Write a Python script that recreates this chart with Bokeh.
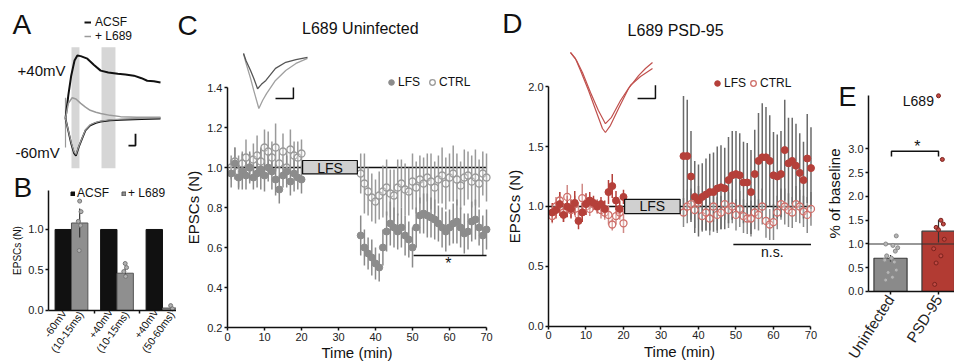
import numpy as np
from bokeh.plotting import figure
from bokeh.layouts import row, column
from bokeh.models import Range1d, FixedTicker, Label, Legend, LegendItem, NumeralTickFormatter
from bokeh.embed import file_html
from bokeh.resources import INLINE

FONT = "Liberation Sans"

# ---------------- Panel A : example traces (time in ms, normalised current) ----------------
A_T_ACSF40 = [0, 3, 6, 9.5, 12.5, 16, 23, 30, 37, 45, 55, 63, 72, 80, 86, 93, 100]
A_V_ACSF40 = [0, 0.37, 0.68, 0.92, 1.0, 0.99, 0.95, 0.85, 0.76, 0.73, 0.71, 0.70, 0.68, 0.64, 0.60, 0.59, 0.57]
A_T_L68940 = [0, 3, 7, 11, 16, 21, 26, 32, 37, 47, 58, 75, 100]
A_V_L68940 = [0, 0.24, 0.33, 0.31, 0.24, 0.18, 0.13, 0.10, 0.08, 0.05, 0.03, 0.02, 0.02]
A_T_M60 = [0, 3, 6, 9, 11, 14, 18, 21, 26, 32, 37, 47, 58, 80, 100]
A_V_M60 = [0, -0.2, -0.4, -0.55, -0.59, -0.45, -0.3, -0.19, -0.11, -0.07, -0.05, -0.03, -0.02, -0.01, 0.0]
A_V_M60_L689 = [0, -0.19, -0.38, -0.53, -0.57, -0.44, -0.29, -0.18, -0.10, -0.06, -0.04, -0.02, -0.01, 0.0, 0.01]
A_ARTIFACT_V = [0.33, -0.46]
A_WINDOWS = [(6.3, 14.7), (37.9, 52.6)]
A_WIN_V = (-0.79, 1.13)

# ---------------- Panel B ----------------
B_LABELS = ["-60mV\n(10-15ms)", "+40mV\n(10-15ms)", "+40mV\n(50-60ms)"]
B_X = [0, 1, 2]
B_ACSF = [1.0, 1.0, 1.0]
B_L689 = [1.08, 0.46, 0.03]
B_L689_SEM = [0.18, 0.06, 0.02]
B_PT_GROUP = [0, 0, 0, 0, 0, 1, 1, 1, 1, 2, 2]
B_PT_VAL = [1.35, 1.22, 1.10, 1.05, 0.74, 0.58, 0.53, 0.48, 0.42, 0.06, 0.02]
B_PT_JIT = [0.0, 0.03, -0.03, 0.02, -0.01, 0.0, 0.03, -0.03, 0.01, 0.0, 0.04]

# ---------------- Panel C : L689 uninfected ----------------
T_BASE = list(range(1, 21))
T_POST = list(range(36, 71))
C_LFS_BASE = [0.97, 1.02, 0.95, 0.98, 0.96, 1.00, 0.95, 0.97, 0.99, 0.96, 1.00, 0.98, 0.94, 0.89, 0.96, 0.98, 0.93, 0.97, 0.95, 0.94]
C_CTRL_BASE = [1.00, 1.03, 0.98, 1.02, 1.05, 1.00, 1.04, 1.06, 1.03, 1.10, 1.08, 1.05, 1.10, 1.02, 1.08, 1.00, 1.09, 1.06, 1.05, 1.07]
C_LFS_POST = [0.66, 0.60, 0.57, 0.55, 0.52, 0.50, 0.60, 0.68, 0.72, 0.70, 0.68, 0.70, 0.66, 0.64, 0.60, 0.70, 0.76, 0.77,
              0.76, 0.75, 0.74, 0.72, 0.70, 0.68, 0.70, 0.72, 0.73, 0.70, 0.67, 0.68, 0.73, 0.74, 0.70, 0.66, 0.69]
C_CTRL_POST = [0.97, 0.92, 0.88, 0.85, 0.83, 0.86, 0.88, 0.90, 0.87, 0.86, 0.90, 0.92, 0.89, 0.88, 0.93, 0.90, 0.94, 0.92,
               0.95, 0.93, 0.90, 0.94, 0.96, 0.92, 0.95, 0.97, 0.94, 0.91, 0.95, 0.96, 0.93, 0.95, 0.92, 0.97, 0.95]
C_LFS_EB = [0.07, 0.08, 0.06, 0.09, 0.07, 0.08, 0.06, 0.07, 0.10, 0.08, 0.07, 0.09, 0.08, 0.07, 0.06, 0.08, 0.07, 0.09, 0.06, 0.07]
C_CTRL_EB = [0.06, 0.07, 0.08, 0.06, 0.09, 0.07, 0.08, 0.10, 0.07, 0.09, 0.10, 0.08, 0.12, 0.07, 0.09, 0.08, 0.10, 0.07, 0.08, 0.07]
C_LFS_EP = [0.10, 0.09, 0.08, 0.09, 0.08, 0.07, 0.09, 0.10, 0.11, 0.10, 0.09, 0.10, 0.10, 0.09, 0.10, 0.10, 0.09, 0.10,
            0.11, 0.10, 0.10, 0.09, 0.10, 0.10, 0.09, 0.10, 0.11, 0.10, 0.10, 0.09, 0.10, 0.10, 0.09, 0.10, 0.10]
C_CTRL_EP = [0.10, 0.15, 0.12, 0.12, 0.11, 0.12, 0.13, 0.14, 0.12, 0.13, 0.14, 0.12, 0.13, 0.12, 0.14, 0.13, 0.12, 0.13,
             0.12, 0.14, 0.13, 0.12, 0.14, 0.13, 0.12, 0.14, 0.13, 0.12, 0.14, 0.12, 0.13, 0.14, 0.12, 0.11, 0.12]
C_SIG = (50.3, 70, 0.56)
C_INSET_T_A = [0, 2, 5.5, 8, 11, 14, 17.5, 25, 33, 41, 50]
C_INSET_V_A = [0, -0.13, -0.31, -0.45, -0.64, -0.56, -0.49, -0.27, -0.16, -0.11, -0.07]
C_INSET_T_B = [0, 2, 5.5, 8, 12, 15, 18, 25, 33, 41, 50]
C_INSET_V_B = [0, -0.18, -0.45, -0.67, -1.0, -0.85, -0.73, -0.49, -0.31, -0.18, -0.09]

# ---------------- Panel D : L689 PSD-95 ----------------
D_LFS_BASE = [0.95, 0.97, 1.02, 0.93, 1.00, 0.98, 1.03, 0.88, 0.95, 1.02, 1.05, 1.03, 1.00, 1.02, 0.98, 1.12, 1.17, 1.05, 0.98, 1.08]
D_CTRL_BASE = [0.92, 1.00, 1.05, 0.95, 1.08, 0.97, 1.02, 0.93, 1.07, 1.00, 0.98, 1.02, 1.00, 0.97, 0.95, 0.93, 0.85, 0.92, 0.95, 0.86]
D_LFS_POST = [1.42, 1.42, 1.25, 1.08, 1.05, 1.08, 1.10, 1.12, 1.12, 1.15, 1.16, 1.15, 1.22, 1.26, 1.27, 1.26, 1.20, 1.20,
              1.12, 1.27, 1.38, 1.41, 1.41, 1.38, 1.26, 1.25, 1.27, 1.47, 1.36, 1.38, 1.34, 1.28, 1.22, 1.40, 1.32]
D_CTRL_POST = [0.95, 1.00, 1.02, 0.97, 1.03, 0.92, 0.95, 0.90, 1.00, 0.93, 0.95, 1.02, 0.97, 1.00, 0.93, 0.98, 0.92, 0.90,
               0.90, 0.95, 0.93, 1.00, 0.88, 0.85, 0.87, 0.95, 1.02, 1.00, 0.97, 0.95, 1.02, 1.00, 0.96, 0.93, 0.98]
D_LFS_EB = [0.08, 0.07, 0.10, 0.06, 0.09, 0.08, 0.10, 0.07, 0.08, 0.09, 0.07, 0.06, 0.05, 0.06, 0.07, 0.10, 0.10, 0.08, 0.07, 0.06]
D_CTRL_EB = [0.06, 0.08, 0.07, 0.08, 0.10, 0.06, 0.07, 0.08, 0.12, 0.07, 0.06, 0.05, 0.06, 0.07, 0.06, 0.08, 0.05, 0.07, 0.06, 0.08]
D_LFS_EP = [0.50, 0.47, 0.38, 0.30, 0.30, 0.28, 0.30, 0.32, 0.33, 0.35, 0.35, 0.34, 0.36, 0.37, 0.36, 0.35, 0.34, 0.33,
            0.35, 0.37, 0.40, 0.45, 0.42, 0.38, 0.36, 0.35, 0.36, 0.42, 0.38, 0.36, 0.35, 0.33, 0.32, 0.37, 0.34]
D_CTRL_EP = [0.12, 0.14, 0.13, 0.15, 0.14, 0.13, 0.15, 0.14, 0.13, 0.15, 0.14, 0.13, 0.15, 0.14, 0.13, 0.15, 0.14, 0.13,
             0.15, 0.14, 0.13, 0.15, 0.14, 0.13, 0.15, 0.14, 0.13, 0.15, 0.14, 0.13, 0.15, 0.14, 0.13, 0.15, 0.14]
D_SIG = (49.3, 70, 0.683)
D_INSET_T_A = [0, 3, 6.1, 11, 15.9, 19.5, 21.3, 24.4, 29.3, 35.4, 41.5, 45.7, 50]
D_INSET_V_A = [0, -0.075, -0.225, -0.475, -0.75, -0.95, -1.0, -0.91, -0.7, -0.45, -0.29, -0.2, -0.125]
D_INSET_T_B = [0, 3.7, 7.3, 12.2, 17, 21.3, 25, 30.5, 36.6, 42.7, 50]
D_INSET_V_B = [0, -0.1, -0.25, -0.5, -0.725, -0.89, -0.81, -0.6, -0.41, -0.3, -0.2]

LFS_WINDOW = (20.3, 35.1)
X_TICKS = [0, 10, 20, 30, 40, 50, 60, 70]

# ---------------- Panel E ----------------
E_GROUPS = ["Uninfected", "PSD-95"]
E_X = [0, 1]
E_MEAN = [0.70, 1.27]
E_SEM = [0.07, 0.24]
E_UNINF = [1.17, 1.00, 0.97, 0.92, 0.85, 0.75, 0.70, 0.66, 0.62, 0.45, 0.40, 0.30, 0.24]
E_UNINF_JIT = [0.12, -0.1, 0.05, 0.15, 0.1, -0.08, 0.02, -0.12, 0.08, 0.12, -0.05, 0.04, -0.1]
E_PSD = [4.12, 2.78, 1.50, 1.42, 1.35, 1.30, 1.10, 0.90, 0.75, 0.60, 0.15]
E_PSD_JIT = [0.0, 0.08, 0.05, 0.1, -0.05, 0.0, 0.12, -0.1, 0.05, -0.05, -0.08]


# ---------------- helpers ----------------
def base_fig(w, h, xr, yr, **kw):
    p = figure(width=w, height=h, x_range=xr, y_range=yr, output_backend="svg",
               toolbar_location=None, min_border=0, **kw)
    p.outline_line_color = None
    p.grid.visible = False
    p.border_fill_color = "white"
    p.background_fill_color = "white"
    return p


def style_axes(p, tick_px, label_px):
    for ax in p.axis:
        ax.axis_line_color = "#111"
        ax.axis_line_width = 1.5
        ax.major_tick_line_color = "#111"
        ax.major_tick_line_width = 1.5
        ax.major_tick_in = 0
        ax.major_tick_out = 3
        ax.minor_tick_line_color = None
        ax.major_label_text_font = FONT
        ax.major_label_text_font_size = f"{tick_px}px"
        ax.major_label_text_color = "#222"
        ax.major_label_standoff = 2
        ax.axis_label_text_font = FONT
        ax.axis_label_text_font_size = f"{label_px}px"
        ax.axis_label_text_font_style = "normal"
        ax.axis_label_text_color = "#111"
        ax.axis_label_standoff = 2


def lab(p, x, y, text, size, align="center", baseline="middle", angle=0, color="#111"):
    p.add_layout(Label(x=x, y=y, text=text, text_font=FONT, text_font_size=f"{size}px",
                       text_align=align, text_baseline=baseline, angle=angle, text_color=color))


def clean_legend(items, loc, orientation, gw, gh, lh, size, standoff, spacing):
    return Legend(items=items, location=loc, orientation=orientation, glyph_width=gw, glyph_height=gh,
                  label_height=lh, label_text_font=FONT, label_text_font_size=f"{size}px",
                  label_text_color="#111", label_standoff=standoff, spacing=spacing, padding=0, margin=0,
                  border_line_color=None, background_fill_alpha=0)


# ---------------- Panel A ----------------
pA = base_fig(176, 170, Range1d(-68.42, 116.84), Range1d(-0.825, 1.873),
              x_axis_location=None, y_axis_location=None)
for (w0, w1) in A_WINDOWS:
    pA.quad(left=w0, right=w1, bottom=A_WIN_V[0], top=A_WIN_V[1], fill_color="#d6d6d6", line_color=None)
pA.line(x=[0, 0], y=A_ARTIFACT_V, line_color="#999", line_width=1.2)
rA1 = pA.line(A_T_ACSF40, A_V_ACSF40, line_color="#111", line_width=2)
pA.line(A_T_M60, A_V_M60, line_color="#111", line_width=1.8)
rA2 = pA.line(A_T_L68940, A_V_L68940, line_color="#9a9a9a", line_width=1.5)
pA.line(A_T_M60, A_V_M60_L689, line_color="#9a9a9a", line_width=1.2)
pA.line(x=[66.3, 73.7, 73.7], y=[-0.43, -0.43, -0.24], line_color="#111", line_width=1.8)
lab(pA, -50.5, 0.76, "+40mV", 15, align="left")
lab(pA, -52.6, -0.54, "-60mV", 15, align="left")
lab(pA, -55.8, 1.5, "A", 28, align="left")
pA.add_layout(clean_legend([LegendItem(label="ACSF", renderers=[rA1]),
                            LegendItem(label="+ L689", renderers=[rA2])],
                           (84, 127), "vertical", 7, 14, 14, 12, 4, 0))

# ---------------- Panel B ----------------
pB = base_fig(176, 194, Range1d(-1.560, 2.308), Range1d(-0.667, 1.728))
style_axes(pB, 11, 10)
pB.yaxis.fixed_location = -0.505
pB.xaxis.fixed_location = 0
pB.yaxis.ticker = FixedTicker(ticks=[0, 0.5, 1.0])
pB.yaxis.formatter = NumeralTickFormatter(format="0.0")
pB.yaxis.bounds = (0, 1.48)
pB.yaxis.axis_label = "EPSCs (N)"
pB.xaxis.bounds = (-0.505, 2.308)
pB.xaxis.ticker = FixedTicker(ticks=[0.5, 1.5])
pB.xaxis.major_label_overrides = {0.5: "", 1.5: ""}
rB1 = pB.vbar(x=[g - 0.18 for g in B_X], top=B_ACSF, width=0.36, fill_color="#111", line_color="#111")
rB2 = pB.vbar(x=[g + 0.18 for g in B_X], top=B_L689, width=0.36, fill_color="#8f8f8f", line_color="#555")
pB.segment(x0=[g + 0.18 for g in B_X], y0=[v - e for v, e in zip(B_L689, B_L689_SEM)],
           x1=[g + 0.18 for g in B_X], y1=[v + e for v, e in zip(B_L689, B_L689_SEM)],
           line_color="#333", line_width=1.2)
pB.scatter(x=[g + 0.18 + j for g, j in zip(B_PT_GROUP, B_PT_JIT)], y=B_PT_VAL, size=4,
           fill_color="#b0b0b0", line_color="#777")
for g, t in zip(B_X, B_LABELS):
    lab(pB, g - 0.23, -0.21, t, 10.5, angle=0.95)
lab(pB, -1.275, 1.52, "B", 28, align="left")
pB.add_layout(clean_legend([LegendItem(label="ACSF", renderers=[rB1]),
                            LegendItem(label="+ L689", renderers=[rB2])],
                           (70, 164), "horizontal", 5, 5, 14, 12, 2, 12))

# ---------------- Panel C ----------------
pC = base_fig(324, 364, Range1d(-13.78, 73.78), Range1d(0.015, 1.835))
style_axes(pC, 11, 15)
pC.yaxis.fixed_location = 0
pC.xaxis.fixed_location = 0.2
pC.xaxis.axis_label_standoff = 0
pC.xaxis.ticker = FixedTicker(ticks=X_TICKS)
pC.xaxis.bounds = (0, 70)
pC.yaxis.ticker = FixedTicker(ticks=[0.2, 0.4, 0.6, 0.8, 1.0, 1.2, 1.4])
pC.yaxis.formatter = NumeralTickFormatter(format="0.0")
pC.yaxis.bounds = (0.2, 1.4)
pC.xaxis.axis_label = "Time (min)"
pC.yaxis.axis_label = "EPSCs (N)"
pC.extra_x_ranges = {"inset": Range1d(-52.34, 200.78)}
pC.extra_y_ranges = {"inset": Range1d(-5.655, 0.964)}
pC.line(x=[0, 70], y=[1.0, 1.0], line_color="#111", line_width=1.5)
for T, V, E, col in [(T_BASE, C_CTRL_BASE, C_CTRL_EB, "#9a9a9a"), (T_POST, C_CTRL_POST, C_CTRL_EP, "#9a9a9a"),
                     (T_BASE, C_LFS_BASE, C_LFS_EB, "#8a8a8a"), (T_POST, C_LFS_POST, C_LFS_EP, "#8a8a8a")]:
    pC.segment(x0=T, y0=[v - e for v, e in zip(V, E)], x1=T, y1=[v + e for v, e in zip(V, E)],
               line_color=col, line_width=1.5)
rC_ctrl = pC.scatter(T_BASE, C_CTRL_BASE, size=7, fill_color="white", fill_alpha=0.3, line_color="#9a9a9a", line_width=1.3)
pC.scatter(T_POST, C_CTRL_POST, size=7, fill_color="white", fill_alpha=0.3, line_color="#9a9a9a", line_width=1.3)
rC_lfs = pC.scatter(T_BASE, C_LFS_BASE, size=7, fill_color="#8c8c8c", line_color="#8c8c8c")
pC.scatter(T_POST, C_LFS_POST, size=7, fill_color="#8c8c8c", line_color="#8c8c8c")
pC.quad(left=LFS_WINDOW[0], right=LFS_WINDOW[1], bottom=0.968, top=1.035, fill_color="#d0d0d0", line_color="#111", line_width=1.2)
lab(pC, sum(LFS_WINDOW) / 2, 1.0, "LFS", 14)
pC.line(x=[C_SIG[0], C_SIG[1]], y=[C_SIG[2], C_SIG[2]], line_color="#111", line_width=1.5)
lab(pC, 59.7, 0.52, "*", 16)
pC.line(C_INSET_T_B, C_INSET_V_B, x_range_name="inset", y_range_name="inset", line_color="#a0a0a0", line_width=1.3)
pC.line(C_INSET_T_A, C_INSET_V_A, x_range_name="inset", y_range_name="inset", line_color="#555", line_width=1.3)
pC.line(x=[25, 39, 39], y=[-0.82, -0.82, -0.62], x_range_name="inset", y_range_name="inset", line_color="#111", line_width=1.5)
lab(pC, 35.9, 1.695, "L689 Uninfected", 16)
lab(pC, -13.5, 1.71, "C", 28, align="left")
pC.add_layout(clean_legend([LegendItem(label="LFS", renderers=[rC_lfs]),
                            LegendItem(label="CTRL", renderers=[rC_ctrl])],
                           (208, 274), "horizontal", 14, 16, 14, 12, 0, 5))

# ---------------- Panel D ----------------
pD = base_fig(325, 364, Range1d(-12.8, 73.87), Range1d(-0.317, 2.717))
style_axes(pD, 11, 15)
pD.yaxis.fixed_location = 0
pD.xaxis.fixed_location = 0
pD.xaxis.axis_label_standoff = 0
pD.xaxis.ticker = FixedTicker(ticks=X_TICKS)
pD.xaxis.bounds = (0, 70)
pD.yaxis.ticker = FixedTicker(ticks=[0, 0.5, 1.0, 1.5, 2.0])
pD.yaxis.formatter = NumeralTickFormatter(format="0.0")
pD.yaxis.bounds = (0, 2.0)
pD.xaxis.axis_label = "Time (min)"
pD.yaxis.axis_label = "EPSCs (N)"
pD.extra_x_ranges = {"inset": Range1d(-42.68, 155.49)}
pD.extra_y_ranges = {"inset": Range1d(-3.9, 0.65)}
pD.line(x=[0, 70], y=[1.0, 1.0], line_color="#111", line_width=1.5)
for T, V, E, col in [(T_BASE, D_CTRL_BASE, D_CTRL_EB, "#d08a86"), (T_POST, D_CTRL_POST, D_CTRL_EP, "#8a8a8a"),
                     (T_BASE, D_LFS_BASE, D_LFS_EB, "#b5403a"), (T_POST, D_LFS_POST, D_LFS_EP, "#6a6a6a")]:
    pD.segment(x0=T, y0=[v - e for v, e in zip(V, E)], x1=T, y1=[v + e for v, e in zip(V, E)],
               line_color=col, line_width=1.5)
rD_ctrl = pD.scatter(T_BASE, D_CTRL_BASE, size=7, fill_color="white", fill_alpha=0.3, line_color="#cf6e69", line_width=1.3)
pD.scatter(T_POST, D_CTRL_POST, size=7, fill_color="white", fill_alpha=0.3, line_color="#cf6e69", line_width=1.3)
rD_lfs = pD.scatter(T_BASE, D_LFS_BASE, size=7, fill_color="#b5403a", line_color="#b5403a")
pD.scatter(T_POST, D_LFS_POST, size=7, fill_color="#b5403a", line_color="#b5403a")
pD.quad(left=LFS_WINDOW[0], right=LFS_WINDOW[1], bottom=0.94, top=1.06, fill_color="#d0d0d0", line_color="#111", line_width=1.2)
lab(pD, sum(LFS_WINDOW) / 2, 1.0, "LFS", 14)
pD.line(x=[D_SIG[0], D_SIG[1]], y=[D_SIG[2], D_SIG[2]], line_color="#111", line_width=1.5)
lab(pD, 59.7, 0.62, "n.s.", 14)
pD.line(D_INSET_T_A, D_INSET_V_A, x_range_name="inset", y_range_name="inset", line_color="#c0504d", line_width=1.2)
pD.line(D_INSET_T_B, D_INSET_V_B, x_range_name="inset", y_range_name="inset", line_color="#c0504d", line_width=1.2)
pD.line(x=[40.9, 51.8, 51.8], y=[-0.575, -0.575, -0.41], x_range_name="inset", y_range_name="inset", line_color="#111", line_width=1.5)
lab(pD, 33.9, 2.467, "L689 PSD-95", 16)
lab(pD, -12.3, 2.525, "D", 28, align="left")
pD.add_layout(clean_legend([LegendItem(label="LFS", renderers=[rD_lfs]),
                            LegendItem(label="CTRL", renderers=[rD_ctrl])],
                           (210, 273), "horizontal", 14, 16, 14, 12, 0, -6))

# ---------------- Panel E ----------------
pE = base_fig(129, 364, Range1d(-1.354, 1.333), Range1d(-1.537, 6.126))
style_axes(pE, 11, 15)
pE.yaxis.fixed_location = -0.458
pE.xaxis.fixed_location = 0
pE.yaxis.ticker = FixedTicker(ticks=[0, 0.5, 1.0, 1.5, 2.0, 2.5, 3.0])
pE.yaxis.formatter = NumeralTickFormatter(format="0.0")
pE.yaxis.bounds = (0, 4.12)
pE.yaxis.axis_label = "% of baseline"
pE.xaxis.bounds = (-0.458, 1.333)
pE.xaxis.ticker = FixedTicker(ticks=E_X)
pE.xaxis.major_label_overrides = {0: E_GROUPS[0], 1: E_GROUPS[1]}
pE.xaxis.major_label_orientation = 1.0
pE.xaxis.major_label_text_font_size = "15px"
pE.vbar(x=E_X, top=E_MEAN, width=0.69, fill_color=["#8a8a8a", "#b23b33"], line_color="#3a3a3a", line_width=1.2)
pE.line(x=[-0.458, 1.333], y=[1.0, 1.0], line_color="#333", line_width=1.2)
pE.segment(x0=E_X, y0=[m - s for m, s in zip(E_MEAN, E_SEM)], x1=E_X, y1=[m + s for m, s in zip(E_MEAN, E_SEM)],
           line_color="#333", line_width=1.2)
pE.scatter(x=E_UNINF_JIT, y=E_UNINF, size=4, fill_color="#b5b5b5", line_color="#8a8a8a")
pE.scatter(x=[1 + j for j in E_PSD_JIT], y=E_PSD, size=4, fill_color="#c24a44", line_color="#7a221d")
pE.line(x=[0.02, 0.02, 1.0, 1.0], y=[2.84, 2.95, 2.95, 2.84], line_color="#111", line_width=1.5)
lab(pE, 0.56, 3.05, "*", 16)
lab(pE, 0.58, 4.0, "L689", 14)
lab(pE, -1.083, 4.1, "E", 27, align="left")

layout = row(column(pA, pB, spacing=0), pC, pD, pE, spacing=0)
open("out.html", "w").write(file_html(layout, INLINE))
